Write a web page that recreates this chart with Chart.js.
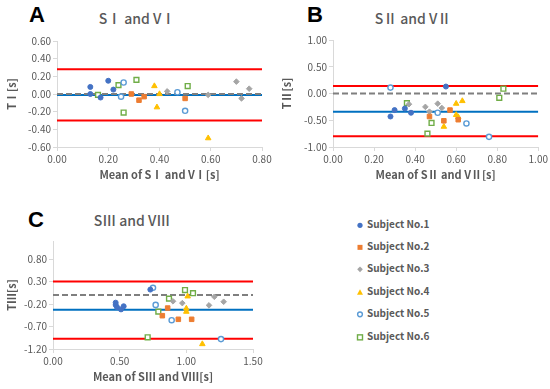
<!DOCTYPE html>
<html>
<head>
<meta charset="utf-8">
<script src="https://cdn.jsdelivr.net/npm/chart.js@4.4.1/dist/chart.umd.min.js"></script>
<style>
    body { margin: 0; background: #fff; }
    #wrap { position: relative; width: 550px; height: 389px; overflow: hidden; font-family: 'Noto Sans CJK JP', 'Noto Sans', sans-serif; }
    canvas { position: absolute; }
    .letter { position: absolute; font-family: 'Liberation Sans', Arial, sans-serif; font-weight: bold; font-size: 22px; line-height: 1; color: #000; }
    .ttl { position: absolute; font-size: 14px; font-weight: 500; line-height: 1; color: #595959; white-space: nowrap; transform: translate(-50%, -50%); }
    .leg { position: absolute; left: 355px; font-size: 10px; font-weight: bold; color: #595959; line-height: 1; white-space: nowrap; transform: translateY(-50%); }
    .leg svg { vertical-align: middle; margin-right: 2px; }
</style>
</head>
<body>
<div id="wrap">
    <div class="letter" style="left:29px;top:4px;">A</div>
    <div class="letter" style="left:307px;top:4px;">B</div>
    <div class="letter" style="left:28px;top:209px;">C</div>
    <div class="ttl" style="left:137px;top:18px;">SⅠ and VⅠ</div>
    <div class="ttl" style="left:413px;top:18px;">SⅡ and VⅡ</div>
    <div class="ttl" style="left:132px;top:220px;">SⅢ and VⅢ</div>
    <canvas id="chartA" width="275" height="185" style="left:0;top:0;"></canvas>
    <canvas id="chartB" width="275" height="185" style="left:275px;top:0;"></canvas>
    <canvas id="chartC" width="275" height="192" style="left:0;top:195px;"></canvas>
    <div id="legend"></div>
</div>
<script>
const subjectNames = ['Subject No.1', 'Subject No.2', 'Subject No.3', 'Subject No.4', 'Subject No.5', 'Subject No.6'];

// Panel A: [mean, difference]
const a1 = [[0.13, 0.08], [0.13, 0.00], [0.17, -0.04], [0.20, 0.15], [0.22, 0.05]];
const a2 = [[0.29, 0.00], [0.32, -0.07], [0.34, -0.03], [0.50, -0.05]];
const a3 = [[0.43, 0.03], [0.59, -0.01], [0.70, 0.14], [0.72, -0.05], [0.75, 0.06]];
const a4 = [[0.38, 0.09], [0.40, 0.00], [0.39, -0.15], [0.59, -0.50]];
const a5 = [[0.25, -0.03], [0.26, 0.13], [0.47, 0.02], [0.50, -0.19]];
const a6 = [[0.16, -0.01], [0.24, 0.10], [0.26, -0.21], [0.31, 0.16], [0.51, 0.09]];
const limitsA = [0.28, -0.01, -0.30]; // upper LoA, bias, lower LoA

// Panel B
const b1 = [[0.28, -0.43], [0.30, -0.31], [0.35, -0.28], [0.38, -0.36], [0.55, 0.13]];
const b2 = [[0.47, -0.43], [0.54, -0.51], [0.57, -0.31], [0.61, -0.49]];
const b3 = [[0.37, -0.20], [0.45, -0.25], [0.47, -0.34], [0.51, -0.19], [0.53, -0.27]];
const b4 = [[0.54, -0.62], [0.60, -0.40], [0.61, -0.44], [0.60, -0.19], [0.63, -0.14]];
const b5 = [[0.28, 0.11], [0.51, -0.36], [0.65, -0.56], [0.76, -0.81]];
const b6 = [[0.36, -0.18], [0.48, -0.55], [0.46, -0.75], [0.81, -0.08], [0.83, 0.09]];
const limitsB = [0.14, -0.34, -0.80];

// Panel C
const c1 = [[0.47, -0.17], [0.47, -0.22], [0.48, -0.27], [0.51, -0.32], [0.53, -0.25], [0.73, 0.12]];
const c2 = [[0.86, -0.29], [0.82, -0.46], [0.94, -0.54], [1.04, -0.54]];
const c3 = [[0.90, -0.14], [0.97, -0.18], [1.17, -0.23], [1.21, -0.04], [1.28, -0.15]];
const c4 = [[1.01, -0.03], [1.00, -0.30], [1.00, -0.37], [1.12, -1.09]];
const c5 = [[0.75, 0.16], [0.77, -0.22], [0.89, -0.56], [1.26, -0.98]];
const c6 = [[0.71, -0.94], [0.79, -0.37], [0.87, -0.08], [0.99, 0.11], [1.05, 0.04]];
const limitsC = [0.30, -0.33, -0.97];

const yTicksC = [-1.2, -0.7, -0.2, 0.3, 0.8];

const markerStyles = [
    { pointStyle: 'circle', backgroundColor: '#4472C4', borderColor: '#4472C4', borderWidth: 1, pointRadius: 2.5 },
    { pointStyle: 'rect', backgroundColor: '#ED7D31', borderColor: '#ED7D31', borderWidth: 1, pointRadius: 3.2 },
    { pointStyle: 'rectRot', backgroundColor: '#A5A5A5', borderColor: '#A5A5A5', borderWidth: 1, pointRadius: 2.8 },
    { pointStyle: 'triangle', backgroundColor: '#FFC000', borderColor: '#FFC000', borderWidth: 1, pointRadius: 3.2 },
    { pointStyle: 'circle', backgroundColor: '#fff', borderColor: '#5B9BD5', borderWidth: 1.4, pointRadius: 2.6 },
    { pointStyle: 'rect', backgroundColor: '#fff', borderColor: '#70AD47', borderWidth: 1.4, pointRadius: 3.4 }
];

const textColor = '#595959';
const fontFamily = "'Noto Sans CJK JP', 'Noto Sans', sans-serif";

function hLine(y, xMax, color, dash) {
    return {
        type: 'line',
        data: [{ x: 0, y: y }, { x: xMax, y: y }],
        borderColor: color,
        borderWidth: 2,
        borderDash: dash || [],
        pointRadius: 0,
        showLine: true,
        fill: false
    };
}

function drawPanel(id, subjects, limits, opts) {
    const ctx = document.getElementById(id);
    const datasets = subjects.map(function(pts, i) {
        return Object.assign({
            label: subjectNames[i],
            data: pts.map(function(p) { return { x: p[0], y: p[1] }; }),
            pointHoverRadius: 3
        }, markerStyles[i]);
    });
    datasets.push(hLine(0, opts.xMax, '#7F7F7F', [6, 3]));
    datasets.push(hLine(limits[1], opts.xMax, '#0070C0'));
    datasets.push(hLine(limits[0], opts.xMax, '#FF0000'));
    datasets.push(hLine(limits[2], opts.xMax, '#FF0000'));

    const yScale = {
        min: opts.yMin,
        max: opts.yMax,
        grid: { drawOnChartArea: false, drawTicks: true, tickLength: 4, color: '#D9D9D9' },
        border: { display: true, color: '#D9D9D9' },
        ticks: {
            stepSize: opts.yStep,
            color: textColor,
            padding: 2,
            font: { family: fontFamily, size: 10, weight: 'normal' },
            callback: function(v) { return Number(v).toFixed(2); }
        },
        title: { display: true, text: opts.yTitle, color: textColor, padding: { top: 5, bottom: 4 }, font: { family: fontFamily, size: 11, weight: 'bold' } },
        afterFit: function(scale) { scale.width = opts.left; }
    };
    if (opts.yTicks) {
        yScale.afterBuildTicks = function(scale) {
            scale.ticks = opts.yTicks.map(function(v) { return { value: v }; });
        };
    }

    new Chart(ctx, {
        type: 'scatter',
        data: { datasets: datasets },
        options: {
            responsive: false,
            animation: false,
            layout: { padding: { left: 0, top: opts.top, right: opts.right, bottom: 0 } },
            plugins: { legend: { display: false }, tooltip: { enabled: false } },
            scales: {
                x: {
                    type: 'linear',
                    min: 0,
                    max: opts.xMax,
                    grid: { drawOnChartArea: false, drawTicks: true, tickLength: 4, color: '#D9D9D9' },
                    border: { display: true, color: '#D9D9D9' },
                    ticks: {
                        stepSize: opts.xStep,
                        color: textColor,
                        padding: 2,
                        maxRotation: 0,
                        font: { family: fontFamily, size: 10, weight: 'normal' },
                        callback: function(v) { return Number(v).toFixed(2); }
                    },
                    title: { display: true, text: opts.xTitle, color: textColor, padding: { top: 2, bottom: 4 }, font: { family: fontFamily, size: 11, weight: 'bold' } },
                    afterFit: function(scale) { scale.height = 38; }
                },
                y: yScale
            }
        }
    });
}

drawPanel('chartA', [a1, a2, a3, a4, a5, a6], limitsA, {
    xMax: 0.8, xStep: 0.2, yMin: -0.6, yMax: 0.6, yStep: 0.2,
    left: 57, top: 41, right: 13,
    yTitle: 'TⅠ[s]', xTitle: 'Mean of SⅠ and VⅠ[s]'
});
drawPanel('chartB', [b1, b2, b3, b4, b5, b6], limitsB, {
    xMax: 1.0, xStep: 0.2, yMin: -1.0, yMax: 1.0, yStep: 0.5,
    left: 58, top: 40, right: 11,
    yTitle: 'TⅡ[s]', xTitle: 'Mean of SⅡ and VⅡ[s]'
});
drawPanel('chartC', [c1, c2, c3, c4, c5, c6], limitsC, {
    xMax: 1.5, xStep: 0.5, yMin: -1.2, yMax: 1.2, yTicks: yTicksC,
    left: 53, top: 46, right: 22,
    yTitle: 'TⅢ[s]', xTitle: 'Mean of SⅢ and VⅢ[s]'
});

// legend
const legendShapes = [
    '<circle cx="5" cy="5" r="2.6" fill="#4472C4"/>',
    '<rect x="2.5" y="2.5" width="5" height="5" fill="#ED7D31"/>',
    '<rect x="3" y="3" width="4" height="4" fill="#A5A5A5" transform="rotate(45 5 5)"/>',
    '<polygon points="5,2 8,7.5 2,7.5" fill="#FFC000"/>',
    '<circle cx="5" cy="5" r="2.4" fill="#fff" stroke="#5B9BD5" stroke-width="1.4"/>',
    '<rect x="2.5" y="2.5" width="5" height="5" fill="#fff" stroke="#70AD47" stroke-width="1.4"/>'
];
const legendRows = [225, 247, 269, 292, 314, 337];
const legend = document.getElementById('legend');
subjectNames.forEach(function(name, i) {
    const row = document.createElement('div');
    row.className = 'leg';
    row.style.top = legendRows[i] + 'px';
    row.innerHTML = '<svg width="10" height="10">' + legendShapes[i] + '</svg>' + name;
    legend.appendChild(row);
});
</script>
</body>
</html>
